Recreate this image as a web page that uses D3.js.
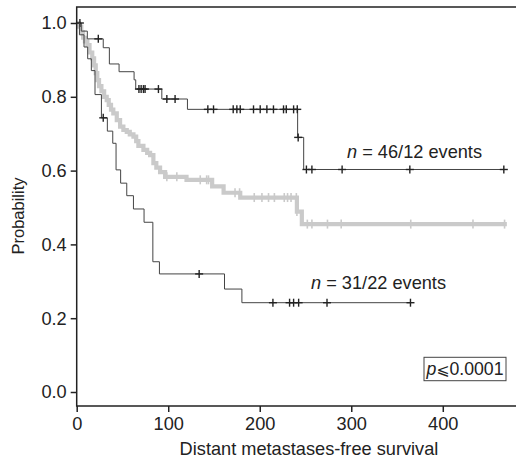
<!DOCTYPE html>
<html>
<head>
<meta charset="utf-8">
<script src="https://cdn.jsdelivr.net/npm/d3@7"></script>
<style>
html,body{margin:0;padding:0;background:#fff;}
svg{display:block;}
text{font-family:"Liberation Sans",Arial,"DejaVu Sans",sans-serif;fill:#222;}
</style>
</head>
<body>
<svg id="chart" width="517" height="463"></svg>
<script>
// ---- data ----
const xTicks = [0, 100, 200, 300, 400];
const yTicks = [0.0, 0.2, 0.4, 0.6, 0.8, 1.0];

// upper group: n = 46/12 events  [time, survival]
const upperSteps = [[0,1.0],[5,0.978],[11.6,0.957],[29,0.933],[35.7,0.889],[46.3,0.868],[62.7,0.846],[64.5,0.821],[93,0.794],[121,0.766],[241.4,0.690],[248,0.603]];
const upperEnd = 466.7;
const upperCensor = [3.5,23.6,68,70.4,72.9,74.7,89.3,98.5,107.5,143.3,149.5,171,175,178.7,193.2,200.5,207.8,215,226,229,237,241,242,251,257,290,364,466.7];

// lower group: n = 31/22 events
const lowerSteps = [[0,1.0],[3,0.968],[8,0.935],[12,0.903],[16,0.871],[20,0.806],[27,0.743],[33.5,0.707],[39.4,0.674],[43,0.602],[48,0.566],[54.7,0.532],[62,0.496],[73.6,0.460],[83.2,0.353],[90.4,0.320],[161.5,0.279],[180.5,0.242]];
const lowerEnd = 364.7;
const lowerCensor = [29,133.8,214.4,232.6,237,242.5,273.5,364.7];

// all patients (grey)
const allSteps = [[0,1.0],[2.5,0.99],[5,0.975],[7,0.96],[9,0.95],[11.6,0.94],[14,0.92],[17,0.904],[19,0.885],[20.8,0.864],[22.5,0.845],[24.4,0.829],[27,0.815],[30,0.80],[32.8,0.791],[35,0.778],[37.5,0.765],[40,0.755],[43.8,0.737],[47.4,0.719],[51,0.710],[54.7,0.705],[58,0.698],[62,0.692],[65,0.68],[67.4,0.667],[72.9,0.656],[77,0.648],[80.2,0.642],[83.8,0.620],[87,0.608],[91.1,0.596],[96.6,0.583],[120,0.575],[148,0.557],[160.5,0.540],[178.7,0.527],[240.6,0.489],[246,0.455]];
const allEnd = 470;
const allCensor = [98.5,109.4,135,142,144,173,178,194,202.4,209.6,216,226.8,230.4,234.2,240,240.6,252,257,274,289,365,433,467.5];

const labelUpper = "46/12 events";
const labelLower = "31/22 events";
const pText = "0.0001";

// ---- layout ----
const svg = d3.select("#chart");
const L = 76.7, R = 516, T = 7, B = 406;
const x = d3.scaleLinear().domain([0, 480]).range([L, R]);
const y = d3.scaleLinear().domain([0, 1]).range([392, 23]);
const FS = 18.2;

function survAt(steps, t){
  let s = steps[0][1];
  for (const d of steps){ if (d[0] <= t) s = d[1]; }
  return s;
}
function path(steps, end){
  const pts = steps.concat([[end, steps[steps.length-1][1]]]);
  return d3.line().x(d=>x(d[0])).y(d=>y(d[1])).curve(d3.curveStepAfter)(pts);
}

// grey curve
svg.append("path").attr("d", path(allSteps, allEnd))
  .attr("fill","none").attr("stroke","#cacaca").attr("stroke-width",4.2);
svg.append("g").selectAll("line").data(allCensor).join("line")
  .attr("x1",d=>x(d)).attr("x2",d=>x(d))
  .attr("y1",d=>y(survAt(allSteps,d))-4.5).attr("y2",d=>y(survAt(allSteps,d))+4.5)
  .attr("stroke","#cacaca").attr("stroke-width",1.6);

// black curves
[[upperSteps,upperEnd,upperCensor],[lowerSteps,lowerEnd,lowerCensor]].forEach(([st,en,ce])=>{
  svg.append("path").attr("d", path(st,en))
    .attr("fill","none").attr("stroke","#444").attr("stroke-width",1);
  const g = svg.append("g");
  ce.forEach(c=>{
    const cx = x(c), cy = y(survAt(st,c));
    g.append("line").attr("x1",cx-4).attr("x2",cx+4).attr("y1",cy).attr("y2",cy)
      .attr("stroke","#222").attr("stroke-width",1.4);
    g.append("line").attr("x1",cx).attr("x2",cx).attr("y1",cy-4).attr("y2",cy+4)
      .attr("stroke","#222").attr("stroke-width",1.4);
  });
});

// frame
svg.append("path").attr("d",`M${R},${T}H${L}V${B}H${R}`)
  .attr("fill","none").attr("stroke","#222").attr("stroke-width",1.5);

// axes
const ax = svg.append("g").attr("transform",`translate(0,${B})`)
  .call(d3.axisBottom(x).tickValues(xTicks).tickSize(6).tickPadding(5).tickFormat(d3.format("d")));
const ay = svg.append("g").attr("transform",`translate(${L},0)`)
  .call(d3.axisLeft(y).tickValues(yTicks).tickSize(6).tickPadding(4).tickFormat(d3.format(".1f")));
[ax,ay].forEach(a=>{
  a.select(".domain").remove();
  a.selectAll(".tick line").attr("stroke","#222").attr("stroke-width",1.5);
  a.selectAll(".tick text").attr("font-size",FS).attr("font-family",null).style("fill","#222");
});

// axis titles
svg.append("text").attr("x",309).attr("y",455).attr("text-anchor","middle")
  .attr("font-size",FS).text("Distant metastases-free survival");
svg.append("text").attr("transform","translate(24,216) rotate(-90)").attr("text-anchor","middle")
  .attr("font-size",16.5).text("Probability");

// curve labels
function nLabel(px, py, txt){
  const t = svg.append("text").attr("x",px).attr("y",py).attr("font-size",FS);
  t.append("tspan").attr("font-style","italic").text("n");
  t.append("tspan").text(" = " + txt);
}
nLabel(347, 157.5, labelUpper);
nLabel(311, 289, labelLower);

// p value box
svg.append("rect").attr("x",424).attr("y",357.3).attr("width",82).attr("height",23.4)
  .attr("fill","#fff").attr("stroke","#444").attr("stroke-width",1);
const pt = svg.append("text").attr("x",465).attr("y",375).attr("text-anchor","middle").attr("font-size",FS-0.5);
pt.append("tspan").attr("font-style","italic").text("p");
pt.append("tspan").attr("font-family","'DejaVu Sans',sans-serif").attr("font-size",FS-2.5).text("\u2A7D");
pt.append("tspan").text(pText);
</script>
</body>
</html>
